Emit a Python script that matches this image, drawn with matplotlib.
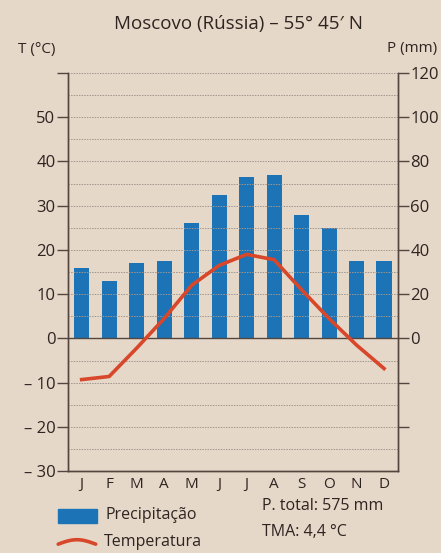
import matplotlib
matplotlib.use("Agg")
import matplotlib.pyplot as plt
from matplotlib.patches import Rectangle
from matplotlib.lines import Line2D
import numpy as np

months = ["J", "F", "M", "A", "M", "J", "J", "A", "S", "O", "N", "D"]
precip_mm = [32, 26, 34, 35, 52, 65, 73, 74, 56, 50, 35, 35]
temp_c = [-9.3, -8.6, -2.2, 4.5, 12.0, 16.5, 19.0, 17.8, 11.0, 4.5, -1.5, -6.8]
t_ticks = [-30, -20, -10, 0, 10, 20, 30, 40, 50, 60]
t_labels = ["– 30", "– 20", "– 10", "0", "10", "20", "30", "40", "50", ""]
p_ticks = [-40, -20, 0, 20, 40, 60, 80, 100, 120]
p_labels = ["", "", "0", "20", "40", "60", "80", "100", "120"]

title = "Moscovo (Rússia) – 55° 45′ N"
p_total = "P. total: 575 mm"
tma = "TMA: 4,4 °C"

plt.rcParams['font.family'] = ['Open Sans', 'DejaVu Sans']
BG = "#e5d8c9"
TXT = "#2e2420"
SPINE = "#54463e"
BLUE = "#1c74b6"
RED = "#d8472a"

fig = plt.figure(figsize=(4.41, 5.53), dpi=100, facecolor=BG)
ax = fig.add_axes([0.154, 0.148, 0.748, 0.72])
ax.set_facecolor(BG)
x = np.arange(len(months))

ax.set_xlim(-0.5, 11.5)
ax.set_ylim(-30, 60)

# grid lines every 5 °C
for g in np.arange(-25, 61, 5):
    ax.axhline(g, color="#a0958d", lw=0.7, ls=(0, (1.5, 1.2)), zorder=1)
ax.axhline(0, color=SPINE, lw=1.0, zorder=3)

ax2 = ax.twinx()
ax2.set_ylim(-60, 120)
ax2.bar(x, precip_mm, width=0.55, color=BLUE, zorder=2)
ax.set_zorder(ax2.get_zorder() + 1)
ax.patch.set_visible(False)
ax2.set_facecolor(BG)
ax.plot(x, temp_c, color=RED, lw=2.6, solid_joinstyle="round", zorder=4)

for a in (ax, ax2):
    a.spines["top"].set_visible(False)
    for s in a.spines.values():
        s.set_color(SPINE)
        s.set_linewidth(1.0)

ax.set_yticks(t_ticks)
ax.set_yticklabels(t_labels)
ax.tick_params(axis="y", direction="out", length=8, width=1.0, color=SPINE,
               labelsize=12, labelcolor=TXT, pad=1)
ax.set_xticks(x)
ax.set_xticklabels(months)
ax.tick_params(axis="x", length=0, labelsize=11, labelcolor=TXT, pad=4)

ax2.set_yticks(p_ticks)
ax2.set_yticklabels(p_labels)
ax2.tick_params(axis="y", direction="out", length=8, width=1.0, color=SPINE,
                labelsize=12, labelcolor=TXT, pad=1)

fig.text(0.54, 0.957, title, ha="center", va="center", fontsize=13.5, color=TXT)
fig.text(0.04, 0.91, "T (°C)", ha="left", va="center", fontsize=11, color=TXT)
fig.text(0.992, 0.913, "P (mm)", ha="right", va="center", fontsize=11, color=TXT)

# legend
fig.add_artist(Rectangle((0.132, 0.055), 0.088, 0.025, transform=fig.transFigure,
                         color=BLUE))
fig.text(0.24, 0.069, "Precipitação", ha="left", va="center", fontsize=11.5, color=TXT)
t = np.linspace(0, 1, 30)
lx = 0.132 + 0.085 * t
ly = 0.016 + 0.008 * np.sin(np.pi * t)
fig.add_artist(Line2D(lx, ly, transform=fig.transFigure, color=RED, lw=2.6,
                      solid_capstyle="round"))
fig.text(0.236, 0.020, "Temperatura", ha="left", va="center", fontsize=11.5, color=TXT)
fig.text(0.594, 0.085, p_total, ha="left", va="center", fontsize=11.5, color=TXT)
fig.text(0.594, 0.038, tma, ha="left", va="center", fontsize=11.5, color=TXT)

fig.savefig("out.png", dpi=100, facecolor=BG)
